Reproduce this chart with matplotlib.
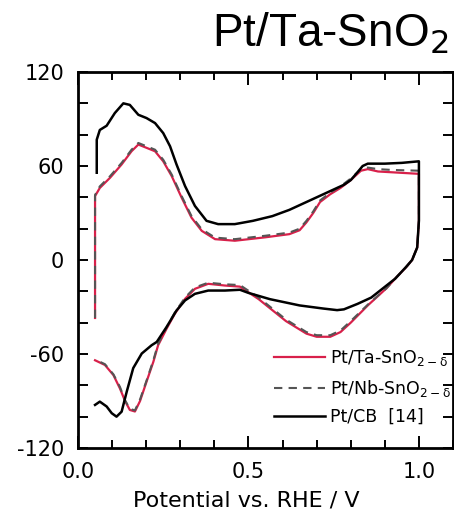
import numpy as np
import matplotlib.pyplot as plt
from matplotlib.ticker import MultipleLocator

plt.rcParams['font.family'] = 'DejaVu Sans'
plt.rcParams['axes.unicode_minus'] = False
plt.rcParams['mathtext.fontset'] = 'custom'
plt.rcParams['mathtext.rm'] = 'DejaVu Sans'
plt.rcParams['mathtext.it'] = 'DejaVu Sans'

# CV curves, anodic sweep (0.05 -> 1.0 V) then cathodic sweep (1.0 -> 0.05 V)
cb_an_x = [0.055, 0.055, 0.064, 0.084, 0.108, 0.133, 0.152, 0.177, 0.201, 0.226, 0.25, 0.27, 0.289, 0.314,
           0.343, 0.377, 0.411, 0.46, 0.513, 0.57, 0.62, 0.67, 0.72, 0.75, 0.78, 0.80, 0.82, 0.835, 0.85, 0.9, 0.95, 1.0]
cb_an_y = [55.7, 76.8, 83, 85.7, 93.8, 100, 99, 92.7, 90.6, 87.4, 81, 72.6, 61, 47.2,
           34.5, 25, 22.9, 22.9, 25, 28, 32, 37, 42, 45, 48, 51, 56, 60, 61.5, 61.5, 62, 63]
cb_ca_x = [1.0, 1.0, 0.995, 0.98, 0.96, 0.93, 0.895, 0.86, 0.82, 0.78, 0.76, 0.72, 0.65, 0.563, 0.5, 0.475,
           0.431, 0.382, 0.343, 0.314, 0.289, 0.26, 0.231, 0.216, 0.187, 0.162, 0.143, 0.128, 0.113, 0.099,
           0.084, 0.064, 0.05]
cb_ca_y = [63, 25, 8, 0, -5, -12, -18, -24, -28, -31.5, -32, -31, -29, -25, -21, -19,
           -19.5, -19.5, -21.6, -25.8, -32.2, -42.7, -52.3, -54.4, -59.7, -69, -84, -96.8, -100, -97.8,
           -93.5, -90.4, -92.5]

ta_an_x = [0.05, 0.05, 0.064, 0.094, 0.128, 0.157, 0.177, 0.201, 0.226, 0.25, 0.275, 0.304, 0.333, 0.363,
           0.402, 0.46, 0.55, 0.62, 0.65, 0.67, 0.69, 0.71, 0.74, 0.77, 0.80, 0.83, 0.85, 0.88, 0.92, 1.0]
ta_an_y = [-37, 40.8, 46, 52.5, 61, 69.4, 73.7, 71.6, 69.4, 63, 53.5, 39.8, 27, 18.6,
           13.3, 12.3, 14.5, 16.5, 19, 24, 30, 37, 42, 46, 51, 57, 58, 56.5, 56, 55]
ta_ca_x = [1.0, 1.0, 0.995, 0.98, 0.965, 0.93, 0.905, 0.85, 0.80, 0.77, 0.74, 0.70, 0.67, 0.61, 0.57, 0.53,
           0.475, 0.431, 0.382, 0.343, 0.314, 0.284, 0.26, 0.235, 0.221, 0.201, 0.182, 0.167, 0.152, 0.138,
           0.123, 0.104, 0.079, 0.05]
ta_ca_y = [55, 25, 8, 0, -4, -12, -18, -29, -40, -46, -49, -49, -47, -39, -32, -25,
           -17, -16.3, -15.2, -18.4, -24.8, -34.3, -43.8, -54.4, -65, -77.7, -90, -96.7, -95.7, -90,
           -82, -73.5, -67, -64]

nb_an_x = [0.05, 0.05, 0.064, 0.094, 0.128, 0.157, 0.177, 0.201, 0.226, 0.25, 0.275, 0.304, 0.333, 0.363,
           0.402, 0.46, 0.55, 0.62, 0.65, 0.67, 0.69, 0.71, 0.74, 0.77, 0.80, 0.83, 0.85, 0.88, 0.92, 1.0]
nb_an_y = [-37, 41.5, 47, 53.5, 62, 70.4, 74.7, 72.6, 70.4, 64, 54.5, 40.8, 28, 19.6,
           14.3, 13.3, 15.5, 17.5, 20, 25, 31, 38, 43, 47, 52, 58, 59, 58, 57.5, 57]
nb_ca_x = [1.0, 1.0, 0.995, 0.98, 0.965, 0.93, 0.905, 0.85, 0.80, 0.77, 0.74, 0.70, 0.67, 0.61, 0.57, 0.53,
           0.475, 0.431, 0.382, 0.343, 0.314, 0.284, 0.26, 0.235, 0.221, 0.201, 0.182, 0.167, 0.152, 0.138,
           0.123, 0.104, 0.079, 0.05]
nb_ca_y = [57, 25, 8, 0, -4, -12, -18, -28.5, -39, -45, -48, -48, -46, -38, -31, -24,
           -16, -15.5, -14.5, -17.5, -24, -33.5, -43, -53.5, -64, -77, -89, -96, -95, -89.5,
           -81, -73, -66.5, -63.5]

fig = plt.figure(figsize=(4.54, 5.13), dpi=100)
ax = fig.add_axes([78 / 454, 65 / 513, 375 / 454, 376 / 513])

ax.plot(ta_an_x + ta_ca_x, ta_an_y + ta_ca_y, color='#d8204a', lw=1.6, label='Pt/Ta-SnO$_{2-\\delta}$')
ax.plot(nb_an_x + nb_ca_x, nb_an_y + nb_ca_y, color='#555555', lw=1.5, dashes=(4, 3), label='Pt/Nb-SnO$_{2-\\delta}$')
ax.plot(cb_an_x + cb_ca_x, cb_an_y + cb_ca_y, color='black', lw=1.8, label='Pt/CB  [14]')

ax.set_xlim(0, 1.1)
ax.set_ylim(-120, 120)
ax.xaxis.set_major_locator(MultipleLocator(0.5))
ax.xaxis.set_minor_locator(MultipleLocator(0.1))
ax.yaxis.set_major_locator(MultipleLocator(60))
ax.yaxis.set_minor_locator(MultipleLocator(20))
ax.set_xticks([0.0, 0.5, 1.0])
ax.set_xticklabels(['0.0', '0.5', '1.0'])
ax.tick_params(which='both', direction='in', top=True, right=True, width=1.4, labelsize=15)
ax.tick_params(axis='x', which='major', length=9, pad=10)
ax.tick_params(axis='x', which='minor', length=6)
ax.tick_params(axis='y', which='both', length=7, pad=10)
for s in ax.spines.values():
    s.set_linewidth(2.0)

leg = ax.legend(loc='lower left', bbox_to_anchor=(0.5, 0.035), frameon=False,
                fontsize=12.5, handlelength=2.9, handletextpad=0.3, labelspacing=0.55, borderpad=0)

fig.text(246 / 454, 1 - 507 / 513, 'Potential vs. RHE / V', ha='center', va='baseline', fontsize=16)
fig.text(448 / 454, 1 - 47 / 513, 'Pt/Ta-SnO$_2$', ha='right', va='baseline', fontsize=33, family='Liberation Sans')

fig.savefig('out.png', dpi=100)
